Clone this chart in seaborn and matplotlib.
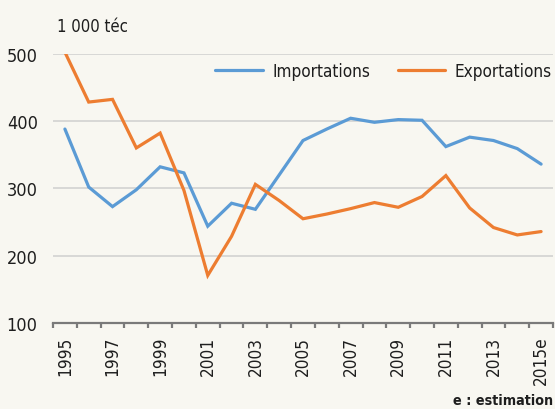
import matplotlib
matplotlib.use("Agg")
import matplotlib.pyplot as plt
import seaborn as sns
import pandas as pd
import numpy as np

years = ["1995", "1996", "1997", "1998", "1999", "2000", "2001", "2002", "2003", "2004",
         "2005", "2006", "2007", "2008", "2009", "2010", "2011", "2012", "2013", "2014", "2015e"]
importations = [388, 302, 273, 298, 332, 323, 244, 278, 269, 320,
                371, 388, 404, 398, 402, 401, 362, 376, 371, 359, 336]
exportations = [502, 428, 432, 360, 382, 297, 171, 229, 306, 282,
                255, 262, 270, 279, 272, 288, 319, 271, 242, 231, 236]
series_names = ["Importations", "Exportations"]
yticks = [100, 200, 300, 400, 500]

BG = "#f8f7f1"
TXT = "#1e1e1e"
sns.set_theme(style="white")
plt.rcParams["font.family"] = ["DejaVu Sans"]
plt.rcParams["font.stretch"] = "condensed"

pos = np.arange(len(years))
df = pd.DataFrame({
    "pos": np.concatenate([pos, pos]),
    "value": importations + exportations,
    "serie": [series_names[0]] * len(years) + [series_names[1]] * len(years),
})

fig = plt.figure(figsize=(5.55, 4.10), dpi=100, facecolor=BG)
ax = fig.add_axes([53 / 555, (410 - 324.3) / 410, 500 / 555, (324.3 - 54.5) / 410])
ax.set_facecolor(BG)

sns.lineplot(data=df, x="pos", y="value", hue="serie",
             palette={"Importations": "#5b9bd5", "Exportations": "#ed7d31"},
             linewidth=2.3, ax=ax, solid_capstyle="round", solid_joinstyle="miter")

ax.set_xlim(-0.5, len(years) - 0.5)
ax.set_ylim(100, 500)
ax.set_yticks(yticks)
ax.set_yticklabels([str(v) for v in yticks], fontsize=13, color=TXT)
ax.tick_params(axis="y", length=0, pad=11)
for v in yticks[1:]:
    ax.axhline(v, color="#cfcfcf", lw=1.1, zorder=0)

ax.set_xticks(pos[::2])
ax.set_xticklabels(years[::2], rotation=90, fontsize=12.3, color=TXT)
ax.set_xticks(np.arange(-0.5, len(years), 1.0), minor=True)
ax.tick_params(axis="x", which="major", length=0, pad=9)
ax.tick_params(axis="x", which="minor", bottom=True, length=3.8, width=1.6, color="#7a7a7a", direction="out")

for s in ["top", "right", "left"]:
    ax.spines[s].set_visible(False)
ax.spines["bottom"].set_color("#7a7a7a")
ax.spines["bottom"].set_linewidth(1.6)
ax.set_xlabel("")
ax.set_ylabel("")
ax.grid(False)

leg = ax.legend(loc="center right", bbox_to_anchor=(0.998, 0.935), ncol=2, frameon=False,
                fontsize=12.3, handlelength=2.8, handletextpad=0.55, columnspacing=1.6,
                borderaxespad=0, borderpad=0)
for t in leg.get_texts():
    t.set_color(TXT)
for h in leg.get_lines():
    h.set_linewidth(2.3)
    h.set_solid_capstyle("round")

fig.text(57 / 555, 1 - 27 / 410, "1 000 téc", fontsize=12, color=TXT, va="center", ha="left")
fig.text(553 / 555, 1 - 401 / 410, "e : estimation", fontsize=10.3, fontweight="bold",
         color=TXT, va="center", ha="right")

fig.savefig("out.png", dpi=100, facecolor=BG)
